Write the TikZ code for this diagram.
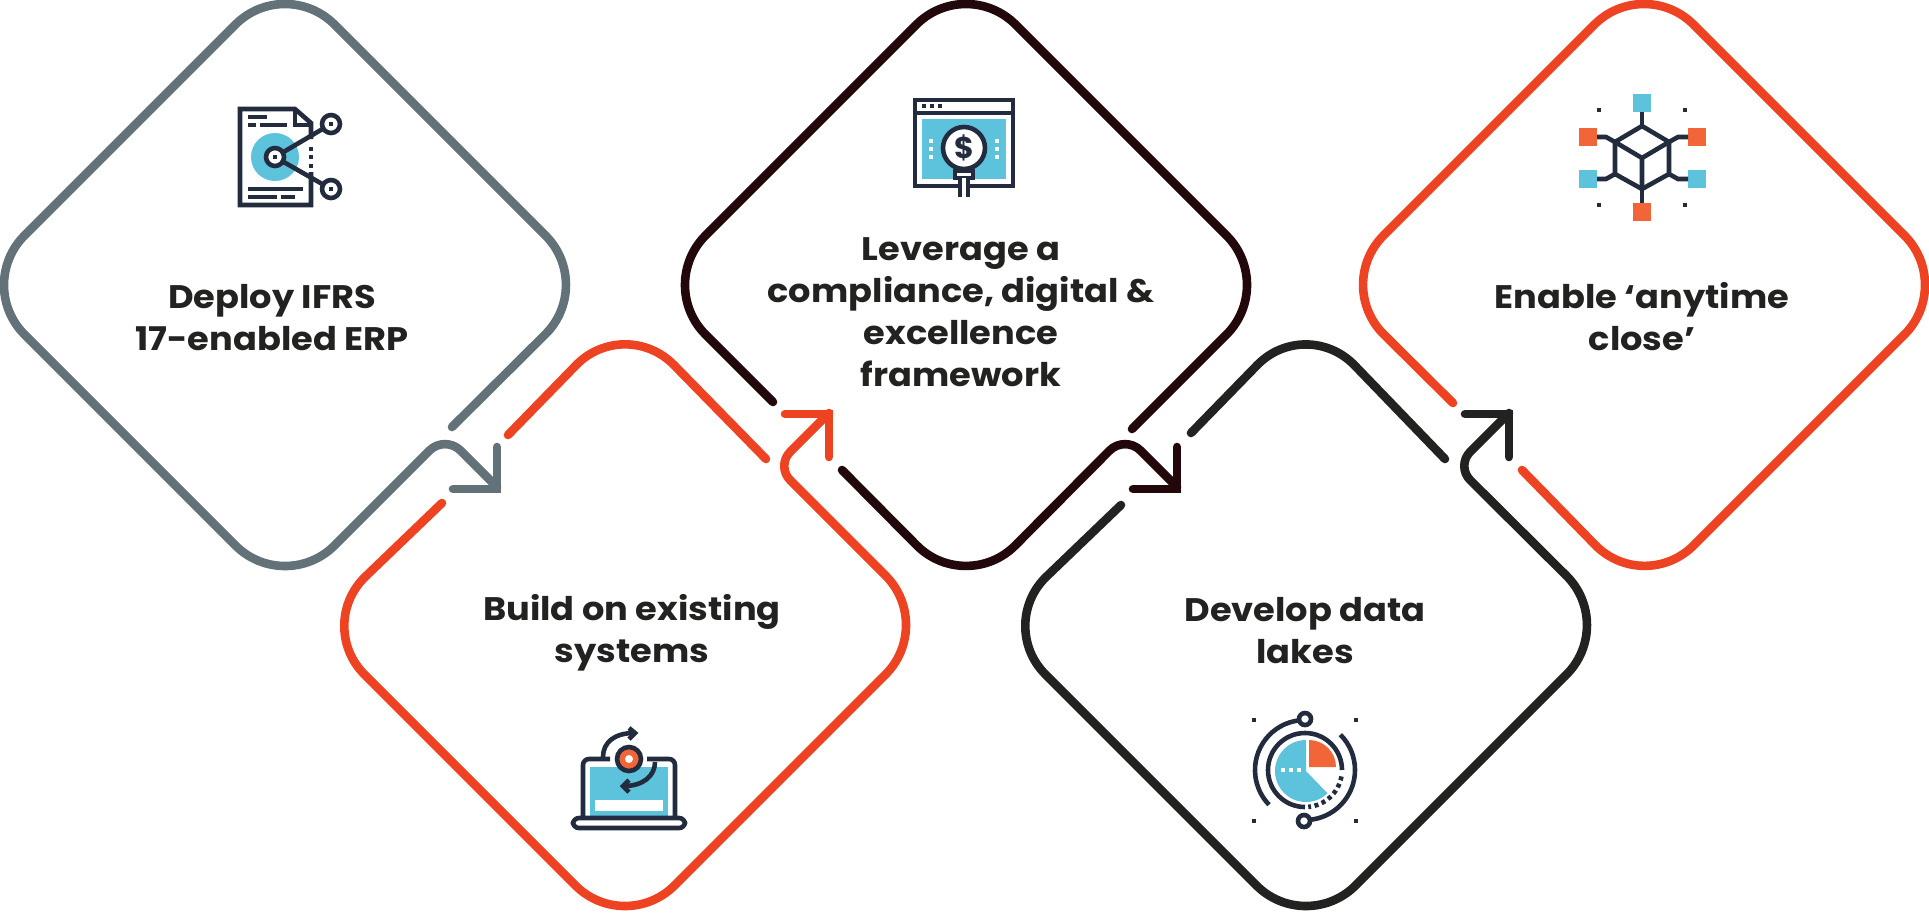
\documentclass[tikz,border=0pt]{standalone}
\usepackage{fontspec}
\setmainfont{Poppins}
\newfontfamily\labelfont{Poppins}[FakeStretch=1.08]
\definecolor{slategray}{HTML}{637278}
\definecolor{redorange}{HTML}{EE4323}
\definecolor{darkbrown}{HTML}{22080A}
\definecolor{nearblack}{HTML}{222220}
\definecolor{iconink}{HTML}{232C3E}
\definecolor{iconblue}{HTML}{5DC2DC}
\definecolor{iconorange}{HTML}{F26539}
\tikzset{
    frame/.style={line width=4.3pt, line cap=round, line join=miter},
    ink/.style={draw=iconink, line width=2.3pt},
    label/.style={font=\labelfont\bfseries\fontsize{16.3}{21}\selectfont, text=nearblack, align=center, inner sep=0pt},
}

\begin{document}
\begin{tikzpicture}[x=0.5pt, y=-0.5pt]
    \useasboundingbox (0,0) rectangle (1929,912);

    % diamond 1
    \draw[frame, slategray, rounded corners=35pt] (452,427) -- (595,285) -- (285,-25) -- (-25,285) -- (285,595) [rounded corners=11pt] -- (445,435) [sharp corners] -- (497,487);
    \draw[frame, slategray] (453,489) -- (497,489) -- (497,447);
    % diamond 2
    \draw[frame, redorange, rounded corners=35pt] (508,435) -- (625,315) -- (766,459);
    \draw[frame, redorange, rounded corners=35pt] (442,503) -- (315,625) -- (625,935) -- (935,625) [rounded corners=10pt] -- (776,466) [sharp corners] -- (829,413);
    \draw[frame, redorange] (785,414) -- (829,414) -- (829,457);
    % diamond 3
    \draw[frame, darkbrown, rounded corners=35pt] (773,402) -- (656,285) -- (966,-25) -- (1276,285) -- (1132,429);
    \draw[frame, darkbrown, rounded corners=35pt] (842,470) -- (966,595) [rounded corners=11pt] -- (1125,435) [sharp corners] -- (1177,487);
    \draw[frame, darkbrown] (1133,489) -- (1177,489) -- (1177,447);
    % diamond 4
    \draw[frame, nearblack, rounded corners=35pt] (1191,433) -- (1306,315) -- (1445,459);
    \draw[frame, nearblack, rounded corners=35pt] (1121,505) -- (996,625) -- (1306,935) -- (1616,625) [rounded corners=10pt] -- (1456,466) [sharp corners] -- (1509,413);
    \draw[frame, nearblack] (1465,414) -- (1509,414) -- (1509,457);
    % diamond 5
    \draw[frame, redorange, rounded corners=35pt] (1522,470) -- (1644,595) -- (1954,285) -- (1644,-25) -- (1334,285) -- (1453,403);

    % labels
    \node[label] (deploy) at (272,318) {Deploy IFRS\\17-enabled ERP};
    \node[label] (build) at (632,633) {Build on existing\\systems};
    \node[label] (leverage) at (961,312) {Leverage a\\compliance, digital \&\\excellence\\framework};
    \node[label] (develop) at (1305,631) {Develop data\\lakes};
    \node[label] (enable) at (1642,317) {Enable ‘anytime\\close’};

    % document icon
    \fill[iconblue] (275,157) circle(24);
    \draw[ink] (311,139) -- (311,123) -- (295,109) -- (240,109) -- (240,205) -- (311,205) -- (311,172);
    \draw[ink] (295,109) -- (295,125) -- (311,125);
    \foreach \y in {149,157,166}
        \fill[iconink] (309,\y-2) rectangle (313,\y+2);
    \draw[iconink, line width=1.7pt] (248,117) -- (267,117) (248,125) -- (256,125) (260,125) -- (287,125);
    \draw[iconink, line width=1.7pt] (248,189) -- (303,189) (248,197) -- (277,197) (281,197) -- (295,197);
    \draw[ink] (275,157) -- (331,124) (275,157) -- (331,189);
    \foreach \x/\y in {275/157, 331/124, 331/189} {
        \draw[ink, fill=white] (\x,\y) circle(9);
        \fill[iconink] (\x-2,\y-2) rectangle (\x+2,\y+2);
    }

    % window icon
    \draw[ink] (915,100) rectangle (1013,186);
    \draw[ink] (915,113) -- (1013,113);
    \fill[iconblue] (922,119) rectangle (1006,179);
    \foreach \x in {924,932,940}
        \fill[iconink] (\x-2,104) rectangle (\x+2,108);
    \foreach \x in {931,997}
        \foreach \y in {141,149,157}
            \fill[white] (\x-2,\y-2) rectangle (\x+2,\y+2);
    \draw[ink, fill=white] (955,171) rectangle (973,178);
    \fill[white] (960,178) rectangle (968,197);
    \draw[ink] (960,178) -- (960,197) (968,178) -- (968,197);
    \draw[ink, fill=white] (964,148) circle(21);
    \node[font=\bfseries\fontsize{15}{15}\selectfont, text=iconink, inner sep=0pt] (dollar) at (964,148) {\$};

    % cube icon
    \foreach \x/\y in {1642/103, 1588/179, 1697/179}
        \fill[iconblue] (\x-9,\y-9) rectangle (\x+9,\y+9);
    \foreach \x/\y in {1642/212, 1588/137, 1697/137}
        \fill[iconorange] (\x-9,\y-9) rectangle (\x+9,\y+9);
    \foreach \x/\y in {1599/110, 1685/110, 1599/205, 1685/205}
        \fill[iconink] (\x-2,\y-2) rectangle (\x+2,\y+2);
    \draw[ink] (1642,126) -- (1669,142) -- (1669,174) -- (1642,189) -- (1615,174) -- (1615,142) -- cycle;
    \draw[ink] (1615,142) -- (1642,158) -- (1669,142) (1642,158) -- (1642,189);
    \draw[ink] (1642,126) -- (1642,112) (1642,189) -- (1642,203);
    \draw[ink] (1615,142) -- (1606,137) -- (1597,137) (1669,142) -- (1678,137) -- (1688,137);
    \draw[ink] (1615,174) -- (1606,179) -- (1597,179) (1669,174) -- (1678,179) -- (1688,179);

    % laptop icon
    \fill[iconblue] (590,767) rectangle (668,817);
    \fill[white] (595,800) rectangle (663,811);
    \draw[ink, rounded corners=3pt] (583,818) -- (583,759) -- (610,759);
    \draw[ink, rounded corners=3pt] (647,759) -- (675,759) -- (675,818);
    \draw[ink, fill=white, rounded corners=3pt] (573,818) -- (685,818) -- (685,828) -- (573,828) -- cycle;
    \draw[ink] (603,757) .. controls (603,742) and (615,733) .. (634,733);
    \draw[ink] (629,728) -- (635,733) -- (629,739);
    \draw[ink] (655,762) .. controls (655,776) and (643,786) .. (624,786);
    \draw[ink] (629,780) -- (623,786) -- (629,792);
    \draw[ink, fill=iconorange] (629,759) circle(12);
    \fill[white] (629,759) circle(4);

    % pie icon
    \fill[iconblue] (1306,771) -- (1306,740) arc (270:46:31) -- cycle;
    \fill[iconorange] (1309,767) -- (1309,740) arc (270:360:27) -- cycle;
    \foreach \x in {1283,1291,1299}
        \fill[white] (\x-2,768) rectangle (\x+2,772);
    \foreach \x/\y in {1254/720, 1356/720, 1254/821, 1356/821}
        \fill[iconink] (\x-2,\y-2) rectangle (\x+2,\y+2);
    \draw[ink] (1305,770) ++(90:37) arc (90:360:37);
    \draw[ink, dash pattern=on 2pt off 1.8pt] (1305,770) ++(10:37) arc (10:85:37);
    \draw[ink] (1305,770) ++(263:50) arc (263:136:50);
    \draw[ink] (1305,770) ++(-45:50) arc (-45:84:50);
    \draw[ink, fill=white] (1305,719) circle(6);
    \draw[ink, fill=white] (1304,821) circle(6);
\end{tikzpicture}
\end{document}
